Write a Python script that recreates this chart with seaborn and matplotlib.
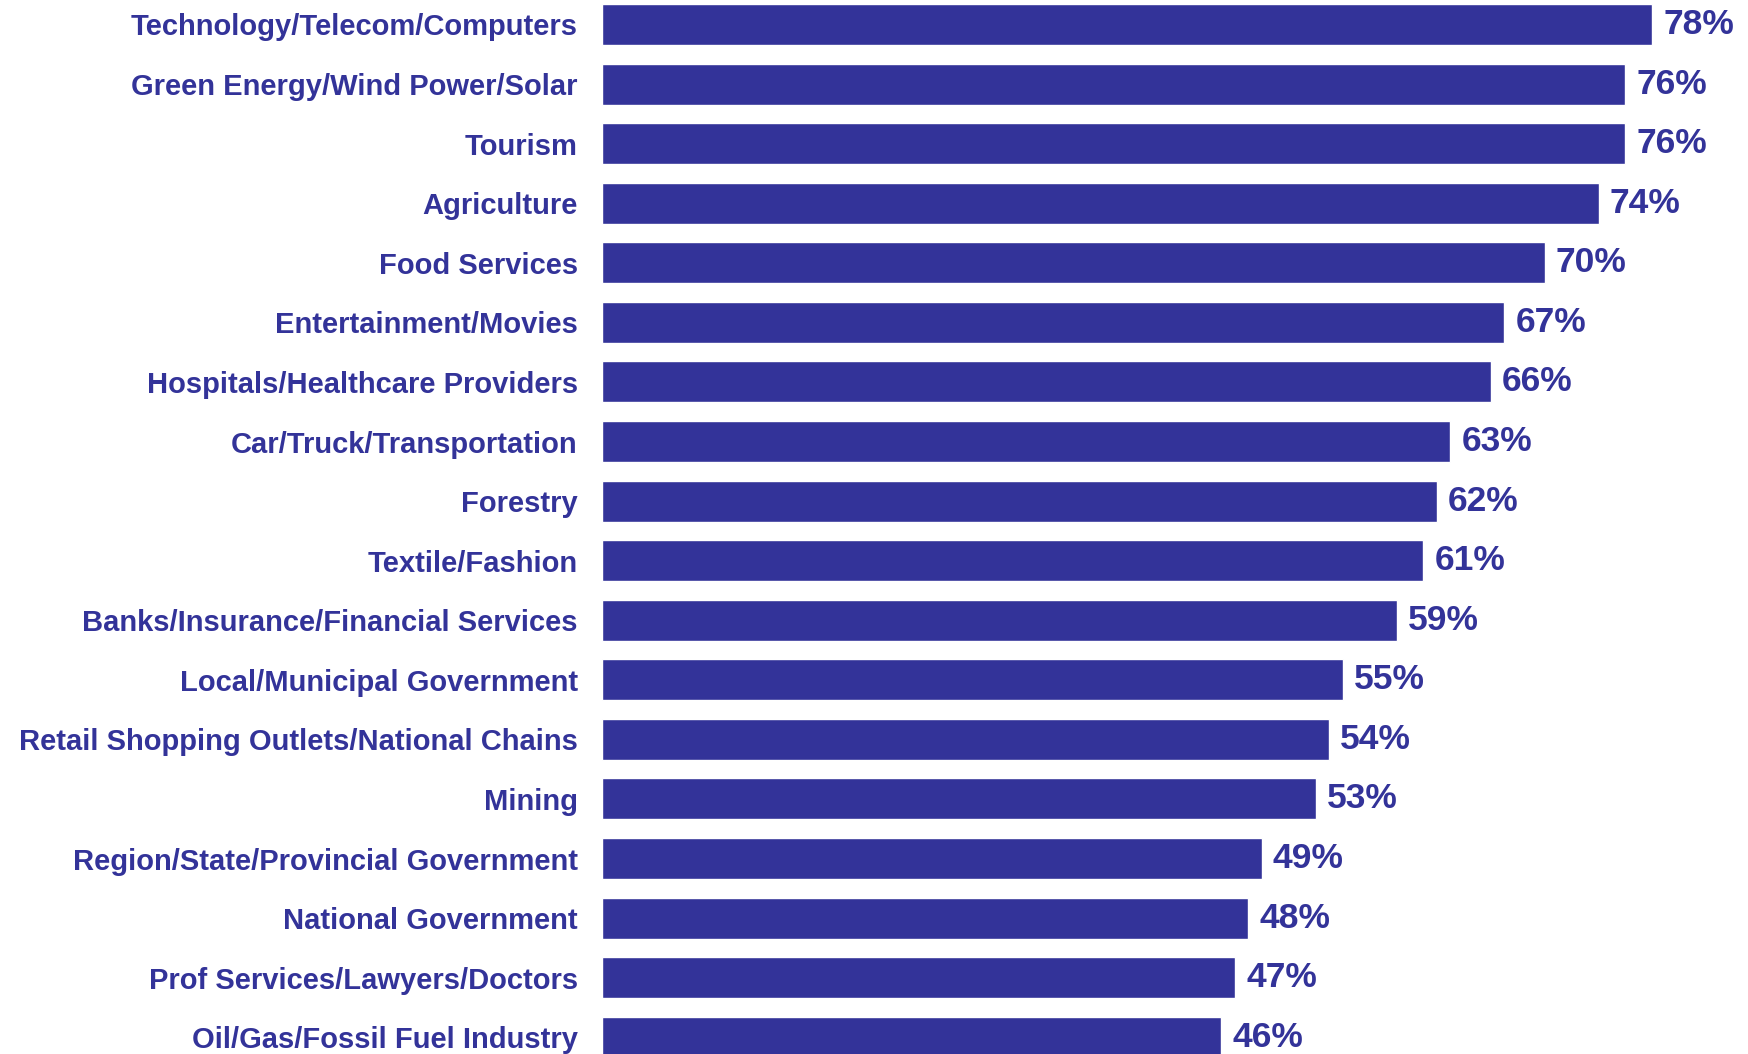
import pandas as pd
import numpy as np
import seaborn as sns
import matplotlib.pyplot as plt

# industry trust, share of respondents (%)
industries = [
    'Technology/Telecom/Computers',
    'Green Energy/Wind Power/Solar',
    'Tourism',
    'Agriculture',
    'Food Services',
    'Entertainment/Movies',
    'Hospitals/Healthcare Providers',
    'Car/Truck/Transportation',
    'Forestry',
    'Textile/Fashion',
    'Banks/Insurance/Financial Services',
    'Local/Municipal Government',
    'Retail Shopping Outlets/National Chains',
    'Mining',
    'Region/State/Provincial Government',
    'National Government',
    'Prof Services/Lawyers/Doctors',
    'Oil/Gas/Fossil Fuel Industry',
]
shares = [78, 76, 76, 74, 70, 67, 66, 63, 62, 61, 59, 55, 54, 53, 49, 48, 47, 46]

df = pd.DataFrame({'industry': industries, 'share': shares})

sns.set_style('white')
plt.rcParams['font.family'] = ['Liberation Sans', 'DejaVu Sans']

BLUE = '#333399'

fig = plt.figure(figsize=(17.48, 10.54), dpi=100)
ax = fig.add_axes([602 / 1748, 0, 1146 / 1748, 1])

sns.barplot(data=df, x='share', y='industry', orient='h', color=BLUE,
            saturation=1, width=0.688, ax=ax)

ax.set_xlim(0, 85.1)
ax.set_ylim(17.28, -0.41)
ax.bar_label(ax.containers[0], labels=[f'{v}%' for v in shares], padding=8,
             fontsize=25.5, fontweight='bold', color=BLUE)

ax.set_xlabel('')
ax.set_ylabel('')
ax.set_xticks([])
ax.tick_params(axis='y', length=0, pad=17.5)
for lbl in ax.get_yticklabels():
    lbl.set_fontsize(21)
    lbl.set_fontweight('bold')
    lbl.set_color(BLUE)
sns.despine(ax=ax, left=True, bottom=True)

fig.savefig('out.png', dpi=100)
